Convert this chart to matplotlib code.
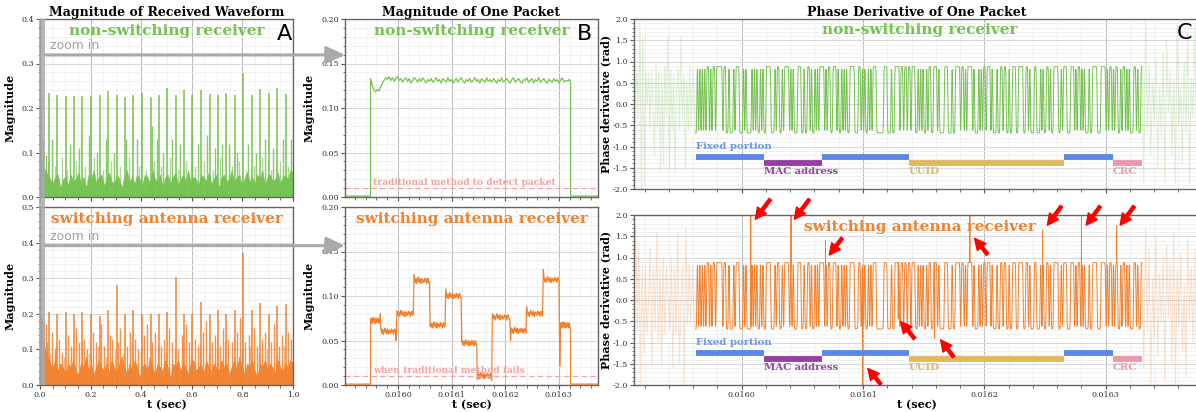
import numpy as np
import matplotlib
matplotlib.use('Agg')
import matplotlib.pyplot as plt
import matplotlib.transforms as mtransforms
from matplotlib.patches import Rectangle
from matplotlib.ticker import AutoMinorLocator, FormatStrFormatter, MultipleLocator

plt.rcParams['font.family'] = 'DejaVu Serif'

GREEN = '#74c24f'
ORANGE = '#f2822e'
GREY = '#a9a9a9'
PINK_TXT = '#f5a3a3'

# ---------------- panel A : magnitude over the whole second ----------------
a_packet_t = [0.003, 0.0355, 0.0684, 0.1013, 0.1342, 0.1671, 0.2013, 0.2368, 0.2697, 0.3026,
              0.3355, 0.3684, 0.4026, 0.4368, 0.4697, 0.5039, 0.5368, 0.5697, 0.6026, 0.6368,
              0.6711, 0.7039, 0.7368, 0.7711, 0.8039, 0.8382, 0.8711, 0.9039, 0.9382, 0.9711]
a_top_packet_h = [0.225, 0.233, 0.230, 0.227, 0.227, 0.228, 0.228, 0.229, 0.239, 0.230,
                  0.224, 0.229, 0.234, 0.224, 0.229, 0.246, 0.229, 0.240, 0.229, 0.240,
                  0.231, 0.229, 0.233, 0.230, 0.278, 0.229, 0.242, 0.234, 0.244, 0.231]
a_bot_packet_h = [0.200, 0.205, 0.200, 0.205, 0.200, 0.205, 0.200, 0.195, 0.210, 0.281,
                  0.200, 0.210, 0.200, 0.200, 0.200, 0.205, 0.304, 0.200, 0.200, 0.232,
                  0.200, 0.210, 0.200, 0.210, 0.370, 0.210, 0.231, 0.200, 0.222, 0.227]

a_top_burst_t = [0.011, 0.022, 0.046, 0.118, 0.154, 0.195, 0.224, 0.262, 0.292, 0.339,
                 0.382, 0.443, 0.461, 0.487, 0.520, 0.553, 0.599, 0.625, 0.660, 0.691,
                 0.721, 0.747, 0.779, 0.822, 0.855, 0.891, 0.921, 0.961, 0.993]
a_top_burst_h = [0.13, 0.095, 0.13, 0.12, 0.11, 0.14, 0.10, 0.13, 0.10, 0.13,
                 0.13, 0.16, 0.13, 0.10, 0.13, 0.12, 0.14, 0.12, 0.14, 0.11,
                 0.12, 0.12, 0.10, 0.12, 0.10, 0.13, 0.11, 0.13, 0.13]
a_top_small_t = [0.030, 0.058, 0.085, 0.108, 0.142, 0.178, 0.212, 0.248, 0.282, 0.318,
                 0.352, 0.392, 0.418, 0.452, 0.478, 0.512, 0.545, 0.578, 0.612, 0.648,
                 0.682, 0.712, 0.758, 0.788, 0.815, 0.845, 0.878, 0.912, 0.948, 0.982]
a_top_small_h = [0.08, 0.07, 0.09, 0.06, 0.08, 0.07, 0.09, 0.06, 0.08, 0.07,
                 0.09, 0.07, 0.06, 0.08, 0.07, 0.09, 0.06, 0.08, 0.07, 0.08,
                 0.06, 0.09, 0.07, 0.08, 0.06, 0.07, 0.09, 0.06, 0.08, 0.07]

a_bot_burst_t = [0.008, 0.014, 0.022, 0.028, 0.048, 0.058, 0.075, 0.088, 0.112, 0.122,
                 0.142, 0.155, 0.175, 0.186, 0.210, 0.222, 0.240, 0.252, 0.275, 0.286,
                 0.310, 0.318, 0.342, 0.356, 0.375, 0.388, 0.410, 0.422, 0.442, 0.455,
                 0.478, 0.490, 0.510, 0.522, 0.545, 0.560, 0.578, 0.590, 0.612, 0.625,
                 0.645, 0.658, 0.678, 0.690, 0.712, 0.722, 0.745, 0.758, 0.778, 0.790,
                 0.812, 0.825, 0.845, 0.858, 0.878, 0.890, 0.912, 0.925, 0.945, 0.958,
                 0.982, 0.994]
a_bot_burst_h = [0.19, 0.18, 0.17, 0.12, 0.15, 0.10, 0.13, 0.09, 0.14, 0.11,
                 0.16, 0.12, 0.13, 0.10, 0.15, 0.12, 0.17, 0.11, 0.14, 0.13,
                 0.12, 0.16, 0.11, 0.15, 0.13, 0.10, 0.14, 0.17, 0.12, 0.15,
                 0.11, 0.13, 0.16, 0.12, 0.10, 0.14, 0.17, 0.12, 0.13, 0.11,
                 0.15, 0.18, 0.12, 0.14, 0.11, 0.16, 0.13, 0.12, 0.15, 0.19,
                 0.12, 0.14, 0.16, 0.11, 0.13, 0.15, 0.12, 0.17, 0.11, 0.14,
                 0.15, 0.13]
a_bot_small_t = [0.018, 0.040, 0.065, 0.095, 0.130, 0.165, 0.195, 0.230, 0.262, 0.296,
                 0.330, 0.362, 0.398, 0.430, 0.465, 0.498, 0.532, 0.566, 0.598, 0.632,
                 0.668, 0.700, 0.732, 0.765, 0.798, 0.832, 0.866, 0.898, 0.932, 0.966]
a_bot_small_h = [0.10, 0.09, 0.11, 0.08, 0.10, 0.12, 0.09, 0.11, 0.08, 0.10,
                 0.09, 0.12, 0.10, 0.08, 0.11, 0.09, 0.10, 0.12, 0.08, 0.11,
                 0.09, 0.10, 0.12, 0.08, 0.10, 0.11, 0.09, 0.10, 0.08, 0.11]

a_top_floor = [0.085, 0.07, 0.06, 0.05, 0.04, 0.03, 0.045, 0.05, 0.02, 0.04,
               0.045, 0.025, 0.05, 0.035, 0.04, 0.055, 0.03, 0.045, 0.02, 0.05,
               0.04, 0.06, 0.03, 0.045, 0.05, 0.025, 0.04, 0.055, 0.035, 0.03,
               0.05, 0.04, 0.02, 0.045, 0.06, 0.035, 0.045, 0.03, 0.05, 0.04,
               0.025, 0.05, 0.045, 0.03, 0.06, 0.04, 0.035, 0.05, 0.02, 0.045,
               0.05, 0.03, 0.045, 0.055, 0.025, 0.04, 0.05, 0.035, 0.06, 0.03,
               0.045, 0.04, 0.025, 0.05, 0.045, 0.035, 0.055, 0.03, 0.04, 0.05,
               0.02, 0.045, 0.05, 0.035, 0.04, 0.06, 0.03, 0.045, 0.05, 0.025,
               0.04, 0.055, 0.035, 0.045, 0.03, 0.05, 0.04, 0.06, 0.025, 0.045,
               0.05, 0.035, 0.04, 0.055, 0.03, 0.045, 0.05, 0.04, 0.06, 0.055]
a_bot_floor = [0.15, 0.12, 0.10, 0.08, 0.06, 0.05, 0.07, 0.04, 0.06, 0.05,
               0.03, 0.06, 0.05, 0.07, 0.04, 0.03, 0.06, 0.05, 0.08, 0.04,
               0.06, 0.03, 0.05, 0.07, 0.05, 0.04, 0.06, 0.03, 0.07, 0.05,
               0.04, 0.06, 0.08, 0.05, 0.03, 0.06, 0.04, 0.07, 0.05, 0.02,
               0.05, 0.06, 0.04, 0.07, 0.05, 0.03, 0.06, 0.05, 0.04, 0.07,
               0.05, 0.02, 0.06, 0.05, 0.07, 0.04, 0.06, 0.05, 0.03, 0.06,
               0.07, 0.04, 0.05, 0.06, 0.03, 0.07, 0.05, 0.04, 0.06, 0.05,
               0.04, 0.07, 0.05, 0.06, 0.03, 0.05, 0.07, 0.04, 0.08, 0.05,
               0.03, 0.06, 0.05, 0.07, 0.04, 0.02, 0.06, 0.05, 0.07, 0.04,
               0.06, 0.05, 0.03, 0.07, 0.05, 0.04, 0.06, 0.05, 0.07, 0.06]

# ---------------- panel B : magnitude of one packet ----------------
b_start, b_end = 0.015949, 0.016322
b_idle = 0.001
b_plateau = [0.133, 0.126, 0.120, 0.118, 0.121, 0.119, 0.124, 0.128, 0.131, 0.134,
             0.132, 0.135, 0.131, 0.134, 0.130, 0.133, 0.135, 0.131, 0.133, 0.129,
             0.132, 0.134, 0.130, 0.133, 0.128, 0.131, 0.134, 0.132, 0.129, 0.133,
             0.130, 0.134, 0.131, 0.128, 0.132, 0.130, 0.133, 0.129, 0.131, 0.134,
             0.130, 0.132, 0.128, 0.133, 0.131, 0.129, 0.134, 0.130, 0.132, 0.128,
             0.131, 0.133, 0.129, 0.132, 0.134, 0.130, 0.128, 0.132, 0.130, 0.133,
             0.129, 0.131, 0.134, 0.130, 0.132, 0.128, 0.133, 0.131, 0.129, 0.134,
             0.130, 0.132, 0.129, 0.133, 0.131, 0.128, 0.132, 0.130, 0.134, 0.129,
             0.131, 0.133, 0.130, 0.128, 0.132, 0.134, 0.129, 0.131, 0.133, 0.130,
             0.128, 0.132, 0.131, 0.134, 0.129, 0.131, 0.133, 0.128, 0.132, 0.130,
             0.134, 0.129, 0.131, 0.133, 0.130, 0.128, 0.132, 0.131, 0.129, 0.133,
             0.130, 0.132, 0.128, 0.131, 0.134, 0.129, 0.131, 0.130, 0.132, 0.129]
b_sw_edges = [0.015949, 0.015968, 0.015998, 0.016030, 0.016060, 0.016089, 0.016119,
              0.016148, 0.016176, 0.016210, 0.016240, 0.016271, 0.016303, 0.016322]
b_sw_levels = [0.072, 0.060, 0.080, 0.117, 0.067, 0.100, 0.047, 0.010, 0.076, 0.061, 0.080, 0.118, 0.067]
b_sw_first = [0.074, 0.062, 0.083, 0.124, 0.066, 0.108, 0.048, 0.006, 0.080, 0.050, 0.088, 0.130, 0.067]
b_sw_last = [0.080, 0.050, 0.080, 0.116, 0.066, 0.098, 0.046, 0.005, 0.074, 0.058, 0.078, 0.021, 0.064]
b_ripple = [0.000, 0.003, -0.002, 0.002, -0.003, 0.001, 0.004, -0.001,
            0.002, -0.002, 0.003, -0.003, 0.001, 0.002, -0.002, 0.000,
            0.003, -0.001, 0.002, -0.003, 0.001, 0.003, -0.002, 0.001]
b_threshold = 0.01

# ---------------- panel C : phase derivative of one packet ----------------
c_start = 0.015962
bit_time = 1e-6
c_sections = ['Fixed portion', 'MAC address', 'Fixed portion', 'UUID', 'Fixed portion', 'CRC']
c_hex = ['AAD6BE898E42A5', '3C9A5E71B2D4', '6B2E95C74A1D38F2B6',
         '9D4A73E1C85B2F6A17D9E43C8B5196A7', 'E35A91C76B', '4D2B96']
c_high, c_low = 0.88, -0.68
c_noise_left_g = [0.0, 0.0, 0.8, -0.3, 1.9, -2.0, 1.6, -1.9, 0.8, 0.0, 0.75, -0.55, 0.8, 0.0,
                  -1.2, 1.0, -0.55, 0.8, -1.55, 0.7, -1.4, 0.9, -0.3, 1.6, -1.55, 0.8, -0.6,
                  0.7, -1.6, 0.3, 0.85, -0.6, 1.6, -0.4, 0.7, -1.5, 0.5, -0.6, 0.9, -0.55, 0.8, 0.0]
c_noise_right_g = [0.9, -1.9, 2.0, -0.6, 0.9, -1.2, 0.6, -0.4, 1.1, -1.5, 0.4, -0.8, 1.2, -1.9,
                   1.5, -0.2, 0.8, -1.2, 0.6, -1.9, 1.9, -0.5, 0.4, -1.4, 1.0, -0.7, 1.7, -1.9,
                   0.6, -0.3, 1.9, -1.2, 0.5, -0.9]
c_noise_left_o = [0.0, 1.75, -0.75, 1.25, -2.0, 0.8, -1.25, 0.8, -0.8, 0.0, 1.25, -1.55, 0.8,
                  -0.75, 1.6, -1.0, 0.75, -1.55, 1.0, -0.8, 0.8, 0.0, -0.7, 1.0, -1.6, 0.8, -0.8,
                  1.6, -1.5, 0.0, 0.8, -2.0, 1.7, -0.6, 0.85, -0.6, 0.8, -0.55]
c_noise_right_o = [0.8, -1.6, 1.7, -0.7, 1.2, -2.0, 0.5, -0.9, 1.5, -1.3, 0.6, -0.5, 1.0, -1.9,
                   1.3, -0.4, 0.9, -1.5, 1.6, -2.0, 0.7, -0.6, 1.1, -1.2, 0.4, -1.8, 1.5, -0.5,
                   0.8, -1.0, 1.2, -1.6, 0.6, -0.8]
c_spike_t = [0.0160074, 0.0160406, 0.016069, 0.0160996, 0.016129, 0.016159,
             0.016188, 0.016248, 0.016280, 0.016309]
c_spike_v = [2.0, 2.0, 1.4, -2.2, -0.45, -0.9, 2.1, 1.65, 2.05, 1.75]
# arrow tips (t, value) and tail offsets in pixels
c_arrow_tip = [(0.0160112, 1.9), (0.0160434, 1.9), (0.0160722, 1.06), (0.016104, -1.61),
               (0.016131, -0.51), (0.016164, -0.94), (0.016192, 1.45), (0.016252, 1.76),
               (0.016284, 1.76), (0.016312, 1.76)]
c_arrow_off = [(15, 20), (15, 20), (13, 17), (13, -16), (14, -17), (13, -17), (13, -16),
               (14, 19), (14, 19), (14, 19)]
seg_colors = {'Fixed portion': '#5c86e8', 'MAC address': '#983ea3',
              'UUID': '#e0b85f', 'CRC': '#ec98ae'}
seg_text_colors = {'Fixed portion': '#6e94f0', 'MAC address': '#9a3fa6',
                   'UUID': '#e3b965', 'CRC': '#ee9ab0'}

# ---------------- layout ----------------
W, H = 1196, 412
fig = plt.figure(figsize=(W / 100, H / 100), dpi=100)


def box(l, t, r, b):
    return [l / W, 1 - b / H, (r - l) / W, (b - t) / H]


ax_a1 = fig.add_axes(box(40, 19, 293, 197))
ax_a2 = fig.add_axes(box(40, 207, 293, 385))
ax_b1 = fig.add_axes(box(345, 19, 598, 197))
ax_b2 = fig.add_axes(box(345, 207, 598, 385))
ax_c1 = fig.add_axes(box(634, 19, 1200, 189))
ax_c2 = fig.add_axes(box(634, 215, 1200, 385))


def style(ax):
    for s in ax.spines.values():
        s.set_color('#666666')
        s.set_linewidth(1.0)
    ax.tick_params(which='both', direction='out', colors='#555555', labelsize=5.8,
                   labelcolor='#333333', pad=1.5)
    ax.tick_params(which='major', length=3)
    ax.tick_params(which='minor', length=1.8)
    ax.xaxis.set_minor_locator(AutoMinorLocator())
    ax.yaxis.set_minor_locator(AutoMinorLocator())
    ax.grid(which='major', axis='x', color='#bdbdbd', lw=0.8)
    ax.grid(which='major', axis='y', color='#dadada', lw=0.8)
    ax.grid(which='minor', color='#efefef', lw=0.6)
    ax.set_axisbelow(True)


label_kw = dict(fontsize=8, fontweight='bold')
big_kw = dict(fontsize=11, fontweight='bold', ha='center', va='center')
letter_kw = dict(fontsize=16, family='DejaVu Sans', ha='center', va='center')

# ---- A ----
floor_t = np.linspace(0, 1, len(a_top_floor))
for ax, floor, st, sh, bt, bh, ph, col, top in [
        (ax_a1, a_top_floor, a_top_small_t, a_top_small_h, a_top_burst_t, a_top_burst_h,
         a_top_packet_h, GREEN, 0.4),
        (ax_a2, a_bot_floor, a_bot_small_t, a_bot_small_h, a_bot_burst_t, a_bot_burst_h,
         a_bot_packet_h, ORANGE, 0.5)]:
    style(ax)
    ax.fill_between(floor_t, 0, floor, color=col, lw=0.5, alpha=0.95)
    ax.vlines(st, 0, sh, color=col, lw=1.0, alpha=0.6)
    ax.vlines(bt, 0, bh, color=col, lw=1.0, alpha=0.85)
    ax.vlines(a_packet_t, 0, ph, color=col, lw=1.1)
    ax.set_xlim(0, 1)
    ax.set_ylim(0, top)
    ax.xaxis.set_major_locator(MultipleLocator(0.2))
    ax.yaxis.set_major_locator(MultipleLocator(0.1))
    ax.xaxis.set_major_formatter(FormatStrFormatter('%.1f'))
    ax.yaxis.set_major_formatter(FormatStrFormatter('%.1f'))
    ax.set_ylabel('Magnitude', **label_kw)
    ax.yaxis.set_label_coords(-0.095, 0.5)
ax_a1.tick_params(labelbottom=False)
ax_a1.set_title('Magnitude of Received Waveform', fontsize=9, fontweight='bold', pad=2)
ax_a2.set_xlabel('t (sec)', labelpad=0, **label_kw)
ax_a1.text(0.5, 0.93, 'non-switching receiver', color=GREEN, transform=ax_a1.transAxes, **big_kw)
ax_a2.text(0.5, 0.93, 'switching antenna receiver', color=ORANGE, transform=ax_a2.transAxes, **big_kw)
ax_a1.text(0.965, 0.915, 'A', transform=ax_a1.transAxes, **letter_kw)

# ---- B ----
top_t = np.concatenate([[0.0159, b_start], np.linspace(b_start, b_end, len(b_plateau)),
                        [b_end, 0.01638]])
top_v = np.concatenate([[b_idle, b_idle], b_plateau, [b_idle, b_idle]])
ax_b1.plot(top_t, top_v, color=GREEN, lw=0.9)

sw_t, sw_v = [0.0159, b_start], [b_idle, b_idle]
for i, lev in enumerate(b_sw_levels):
    t = np.linspace(b_sw_edges[i], b_sw_edges[i + 1], len(b_ripple), endpoint=False)
    v = lev + np.array(b_ripple)
    v[0] = b_sw_first[i]
    v[-1] = b_sw_last[i]
    sw_t.extend(t)
    sw_v.extend(v)
sw_t += [b_end, b_end, 0.01638]
sw_v += [b_sw_last[-1], b_idle, b_idle]
ax_b2.plot(sw_t, sw_v, color=ORANGE, lw=0.9)

for ax, msg in [(ax_b1, 'traditional method to detect packet'),
                (ax_b2, 'when traditional method fails')]:
    style(ax)
    ax.axhline(b_threshold, color='#f7a0a0', lw=0.9, ls=(0, (4, 3)))
    ax.text(b_start + 0.000004, b_threshold + 0.0008, msg, color=PINK_TXT, fontsize=6.6,
            fontweight='bold', va='bottom', ha='left')
    ax.set_xlim(0.0159013, 0.016373)
    ax.set_ylim(0, 0.2)
    ax.xaxis.set_major_locator(MultipleLocator(0.0001))
    ax.yaxis.set_major_locator(MultipleLocator(0.05))
    ax.xaxis.set_major_formatter(FormatStrFormatter('%.4f'))
    ax.yaxis.set_major_formatter(FormatStrFormatter('%.2f'))
    ax.set_ylabel('Magnitude', **label_kw)
    ax.yaxis.set_label_coords(-0.12, 0.5)
ax_b1.tick_params(labelbottom=False)
ax_b1.set_title('Magnitude of One Packet', fontsize=9, fontweight='bold', pad=2)
ax_b2.set_xlabel('t (sec)', labelpad=0, **label_kw)
ax_b1.text(0.5, 0.934, 'non-switching receiver', color=GREEN, transform=ax_b1.transAxes, **big_kw)
ax_b2.text(0.5, 0.933, 'switching antenna receiver', color=ORANGE, transform=ax_b2.transAxes, **big_kw)
ax_b1.text(0.945, 0.915, 'B', transform=ax_b1.transAxes, **letter_kw)

# ---- zoom-in marker from A to B ----
blend = mtransforms.blended_transform_factory(ax_a1.transData, fig.transFigure)
fig.add_artist(Rectangle((-0.003, 1 - 385 / H), 0.023, (385 - 19) / H, transform=blend,
                         color=GREY, alpha=0.85, lw=0, zorder=5))
for ax_a, ax_b, yf in [(ax_a1, ax_b1, 0.798), (ax_a2, ax_b2, 0.783)]:
    ax_b.annotate('', xy=(0, yf), xycoords='axes fraction',
                  xytext=(0.02, yf), textcoords=ax_a.transAxes,
                  arrowprops=dict(arrowstyle='-|>,head_length=0.75,head_width=0.35',
                                  mutation_scale=15, lw=2.2, color=GREY,
                                  shrinkA=0, shrinkB=0),
                  annotation_clip=False, zorder=6)
    ax_a.text(0.04, yf + 0.015, 'zoom in', color='#a3a3a3', fontsize=9, family='DejaVu Sans',
              transform=ax_a.transAxes, va='bottom', ha='left')

# ---- C ----
bits = []
sec_bits = []
for name, hx in zip(c_sections, c_hex):
    b = []
    for k in range(0, len(hx), 2):
        byte = int(hx[k:k + 2], 16)
        b.extend((byte >> j) & 1 for j in range(8))
    sec_bits.append(len(b))
    bits.extend(b)
spb = 8
nrz = np.repeat(np.where(np.array(bits) == 1, c_high, c_low), spb)
sig_k = np.arange(-8, 9)
kern = np.exp(-0.5 * (sig_k / (0.24 * spb)) ** 2)
kern /= kern.sum()
padded = np.pad(nrz, 8, mode='edge')
phase = np.convolve(padded, kern, mode='same')[8:-8]
c_t = c_start + (np.arange(len(phase)) + 0.5) * bit_time / spb
c_end = c_start + len(bits) * bit_time
bounds = c_start + np.concatenate([[0], np.cumsum(sec_bits)]) * bit_time

phase_sw = phase.copy()
for ts, v in zip(c_spike_t, c_spike_v):
    idx = int(round((ts - c_start) / bit_time * spb))
    phase_sw[idx] = v

c_xlim = (0.0159112, 0.0163778)
for ax, sig, col, nl, nr in [(ax_c1, phase, GREEN, c_noise_left_g, c_noise_right_g),
                             (ax_c2, phase_sw, ORANGE, c_noise_left_o, c_noise_right_o)]:
    style(ax)
    tl = np.linspace(c_xlim[0], c_start, len(nl), endpoint=False)
    tr = np.linspace(c_end, c_xlim[1], len(nr))
    ax.plot(np.append(tl, c_t[0]), np.append(nl, sig[0]), color=col, lw=0.8, alpha=0.22)
    ax.plot(np.insert(tr, 0, c_t[-1]), np.insert(nr, 0, sig[-1]), color=col, lw=0.8, alpha=0.22)
    ax.plot(c_t, sig, color=col, lw=0.7)
    for i, name in enumerate(c_sections):
        row_y = -1.25 if name == 'Fixed portion' else -1.38
        ax.hlines(row_y, bounds[i], bounds[i + 1], color=seg_colors[name], lw=4.2)
    for i, name in enumerate(c_sections):
        if name == 'Fixed portion' and i > 0:
            continue
        ty = -1.01 if name == 'Fixed portion' else -1.58
        ax.text(bounds[i], ty, name, color=seg_text_colors[name], fontsize=7.3,
                fontweight='bold', va='center', ha='left')
    ax.set_xlim(*c_xlim)
    ax.set_ylim(-2, 2)
    ax.xaxis.set_major_locator(MultipleLocator(0.0001))
    ax.yaxis.set_major_locator(MultipleLocator(0.5))
    ax.xaxis.set_major_formatter(FormatStrFormatter('%.4f'))
    ax.yaxis.set_major_formatter(FormatStrFormatter('%.1f'))
    ax.set_ylabel('Phase derivative (rad)', **label_kw)
    ax.yaxis.set_label_coords(-0.04, 0.5)
ax_c1.tick_params(labelbottom=False)
ax_c1.set_title('Phase Derivative of One Packet', fontsize=9, fontweight='bold', pad=2)
ax_c2.set_xlabel('t (sec)', labelpad=0, **label_kw)
ax_c1.text(0.505, 0.935, 'non-switching receiver', color=GREEN, transform=ax_c1.transAxes, **big_kw)
ax_c2.text(0.505, 0.93, 'switching antenna receiver', color=ORANGE, transform=ax_c2.transAxes, **big_kw)
ax_c1.text(0.973, 0.915, 'C', transform=ax_c1.transAxes, **letter_kw)

for (tx, ty), (dx, dy) in zip(c_arrow_tip, c_arrow_off):
    ax_c2.annotate('', xy=(tx, ty), xytext=(dx, dy), textcoords='offset pixels',
                   arrowprops=dict(facecolor='red', edgecolor='red', width=2.2,
                                   headwidth=8, headlength=8, shrink=0),
                   annotation_clip=False)

fig.savefig('out.png', dpi=100)
